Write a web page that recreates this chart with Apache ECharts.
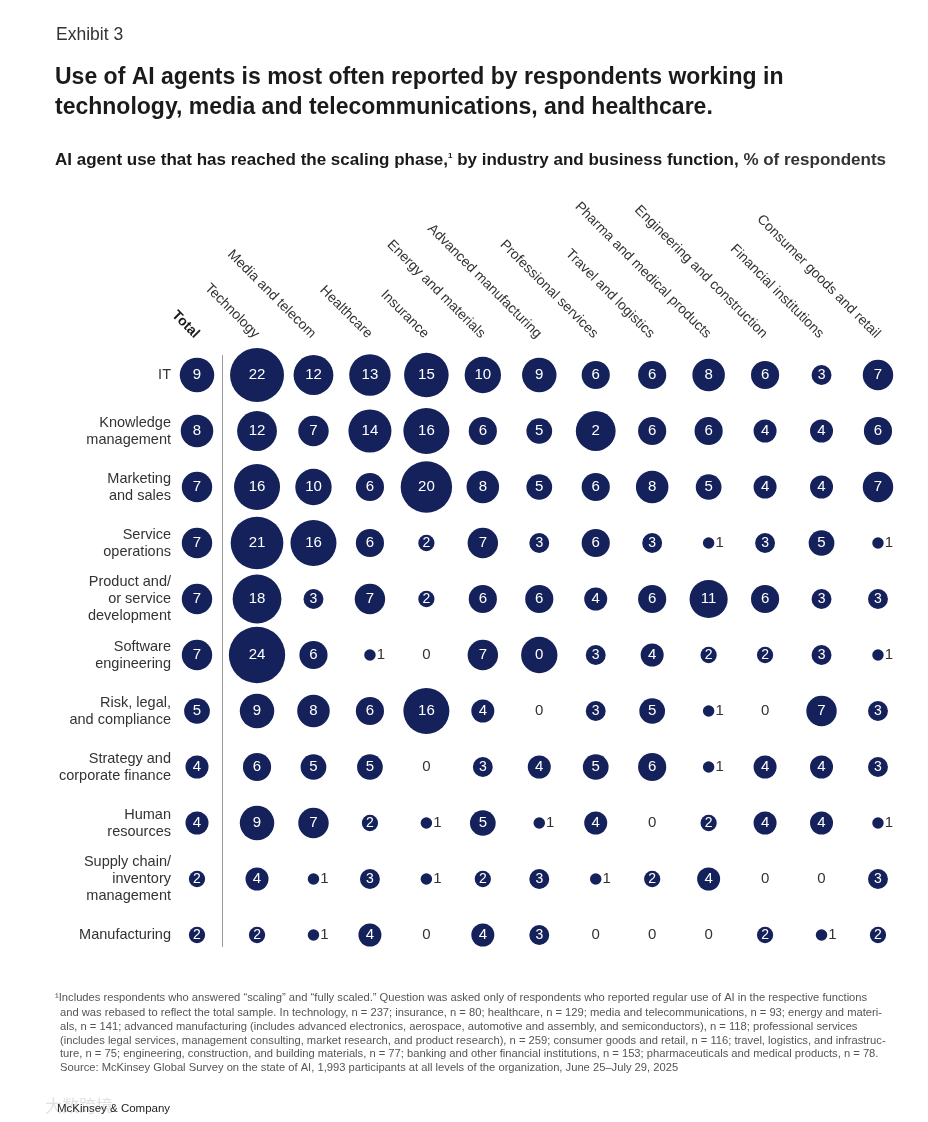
<!DOCTYPE html>
<html>
<head>
<meta charset="utf-8">
<style>
  html, body { margin: 0; padding: 0; background: #ffffff; }
  #chart { width: 928px; height: 1122px; }
</style>
<script src="https://cdn.jsdelivr.net/npm/echarts@6/dist/echarts.min.js"></script>
</head>
<body>
<div id="chart"></div>
<script>
// ---------- DATA ----------
const functions = [
  'IT', 'Knowledge\nmanagement', 'Marketing\nand sales', 'Service\noperations',
  'Product and/\nor service\ndevelopment', 'Software\nengineering', 'Risk, legal,\nand compliance',
  'Strategy and\ncorporate finance', 'Human\nresources', 'Supply chain/\ninventory\nmanagement', 'Manufacturing'
];
const industries = [
  'Technology', 'Media and telecom', 'Healthcare', 'Insurance', 'Energy and materials',
  'Advanced manufacturing', 'Professional services', 'Travel and logistics',
  'Pharma and medical products', 'Engineering and construction', 'Financial institutions',
  'Consumer goods and retail'
];
const totalLabel = ['Total'];
const totalValues = [9, 8, 7, 7, 7, 7, 5, 4, 4, 2, 2];
const itValues            = [22, 12, 13, 15, 10, 9, 6, 6, 8, 6, 3, 7];
const knowledgeValues     = [12, 7, 14, 16, 6, 5, 12, 6, 6, 4, 4, 6];
const marketingValues     = [16, 10, 6, 20, 8, 5, 6, 8, 5, 4, 4, 7];
const serviceOpsValues    = [21, 16, 6, 2, 7, 3, 6, 3, 1, 3, 5, 1];
const productDevValues    = [18, 3, 7, 2, 6, 6, 4, 6, 11, 6, 3, 3];
const softwareValues      = [24, 6, 1, 0, 7, 10, 3, 4, 2, 2, 3, 1];
const riskValues          = [9, 8, 6, 16, 4, 0, 3, 5, 1, 0, 7, 3];
const strategyValues      = [6, 5, 5, 0, 3, 4, 5, 6, 1, 4, 4, 3];
const hrValues            = [9, 7, 2, 1, 5, 1, 4, 0, 2, 4, 4, 1];
const supplyChainValues   = [4, 1, 3, 1, 2, 3, 1, 2, 4, 0, 0, 3];
const manufacturingValues = [2, 1, 4, 0, 4, 3, 0, 0, 0, 2, 1, 2];
// labels as printed in the exhibit where they differ from the bubble's value
const printedLabelOverrides = [
  { row: 1, col: 6, text: '2' },
  { row: 5, col: 5, text: '0' }
];
// ---------------------------

const matrix = [itValues, knowledgeValues, marketingValues, serviceOpsValues, productDevValues,
  softwareValues, riskValues, strategyValues, hrValues, supplyChainValues, manufacturingValues];

const NAVY = '#14215a';
const TEXT = '#333333';
const FONT = '"Liberation Sans", Arial, sans-serif';

function sizeOf(v) { return 11.5 * Math.sqrt(v); }

function makePoint(x, y, v, text) {
  const label = { show: true, formatter: text, fontFamily: FONT, fontSize: 15 };
  if (v >= 2) {
    label.position = 'inside';
    label.color = '#ffffff';
    if (v <= 3) label.fontSize = 14;
  } else if (v === 1) {
    label.position = 'right';
    label.distance = 1;
    label.color = TEXT;
  } else {
    label.position = 'inside';
    label.color = TEXT;
  }
  return { value: [x, y, v], label: label };
}

const totalData = totalValues.map((v, r) => makePoint(0, r, v, String(v)));
const gridData = [];
matrix.forEach((row, r) => {
  row.forEach((v, c) => {
    const ov = printedLabelOverrides.find(o => o.row === r && o.col === c);
    gridData.push(makePoint(c, r, v, ov ? ov.text : String(v)));
  });
});

const chart = echarts.init(document.getElementById('chart'), null, { renderer: 'canvas' });

const footLines = [
  'and was rebased to reflect the total sample. In technology, n = 237; insurance, n = 80; healthcare, n = 129; media and telecommunications, n = 93; energy and materi-',
  'als, n = 141; advanced manufacturing (includes advanced electronics, aerospace, automotive and assembly, and semiconductors), n = 118; professional services',
  '(includes legal services, management consulting, market research, and product research), n = 259; consumer goods and retail, n = 116; travel, logistics, and infrastruc-',
  'ture, n = 75; engineering, construction, and building materials, n = 77; banking and other financial institutions, n = 153; pharmaceuticals and medical products, n = 78.',
  'Source: McKinsey Global Survey on the state of AI, 1,993 participants at all levels of the organization, June 25–July 29, 2025'
];

const FOOT_FONT = '"Liberation Sans", Arial, sans-serif';

const option = {
  backgroundColor: '#ffffff',
  animation: false,
  textStyle: { fontFamily: FONT },
  title: [
    { text: 'Exhibit 3', left: 56, top: 26, padding: 0,
      textStyle: { fontSize: 17.5, fontWeight: 'normal', color: TEXT, fontFamily: FONT } },
    { text: 'Use of AI agents is most often reported by respondents working in\ntechnology, media and telecommunications, and healthcare.',
      left: 55, top: 63, padding: 0,
      textStyle: { fontSize: 23, fontWeight: 'bold', color: '#1a1a1a', lineHeight: 30, fontFamily: FONT } },
    { text: '{b|AI agent use that has reached the scaling phase,}{s|1}{b| by industry and business function,}{r| % of respondents}',
      left: 55, top: 152, padding: 0,
      textStyle: {
        rich: {
          b: { fontSize: 17, fontWeight: 'bold', color: '#1a1a1a', fontFamily: FONT },
          s: { fontSize: 8, fontWeight: 'bold', color: '#1a1a1a', verticalAlign: 'top', padding: [0, 0, 9, 0], fontFamily: FONT },
          r: { fontSize: 17, color: TEXT, fontFamily: FONT }
        }
      } }
  ],
  grid: [
    { left: 172, top: 347, width: 50, height: 616, outerBoundsMode: 'none', containLabel: false },
    { left: 228.8, top: 347, width: 677.4, height: 616, outerBoundsMode: 'none', containLabel: false }
  ],
  xAxis: [
    { type: 'category', gridIndex: 0, data: totalLabel, position: 'top',
      axisLine: { show: false }, axisTick: { show: false }, splitLine: { show: false },
      axisLabel: { rotate: 45, margin: 11, fontSize: 14, fontWeight: 'bold', color: '#1a1a1a', fontFamily: FONT, interval: 0 } },
    { type: 'category', gridIndex: 1, data: industries, position: 'top',
      axisLine: { show: false }, axisTick: { show: false }, splitLine: { show: false },
      axisLabel: { rotate: 45, margin: 11, fontSize: 14, color: TEXT, fontFamily: FONT, interval: 0 } }
  ],
  yAxis: [
    { type: 'category', gridIndex: 0, data: functions, inverse: true,
      axisLine: { show: false }, axisTick: { show: false }, splitLine: { show: false },
      axisLabel: { margin: 1, fontSize: 14.5, color: TEXT, lineHeight: 17, align: 'right', fontFamily: FONT, interval: 0 } },
    { type: 'category', gridIndex: 1, data: functions, inverse: true, show: false }
  ],
  series: [
    { type: 'scatter', xAxisIndex: 0, yAxisIndex: 0, data: totalData,
      symbolSize: d => sizeOf(d[2]), itemStyle: { color: NAVY, opacity: 1 }, silent: true },
    { type: 'scatter', xAxisIndex: 1, yAxisIndex: 1, data: gridData,
      symbolSize: d => sizeOf(d[2]), itemStyle: { color: NAVY, opacity: 1 }, silent: true }
  ],
  graphic: [
    { type: 'line', shape: { x1: 222.5, y1: 355, x2: 222.5, y2: 947 },
      style: { stroke: '#9a9a9a', lineWidth: 1 } },
    { type: 'text', left: 55, top: 992,
      style: { text: '¹Includes respondents who answered “scaling” and “fully scaled.” Question was asked only of respondents who reported regular use of AI in the respective functions',
        font: '11.2px ' + FOOT_FONT, fill: '#555555' } },
    { type: 'text', left: 60, top: 1006,
      style: { text: footLines.join('\n'), font: '11.2px ' + FOOT_FONT, fill: '#555555', lineHeight: 13.8 } },
    { type: 'text', left: 45, top: 1097,
      style: { text: '大数跨境', font: '17px "Noto Sans CJK SC"', fill: 'rgba(200,200,200,0.55)' } },
    { type: 'text', left: 57, top: 1103,
      style: { text: 'McKinsey & Company', font: '11.5px ' + FONT, fill: '#222222' } }
  ]
};

chart.setOption(option);
</script>
</body>
</html>
